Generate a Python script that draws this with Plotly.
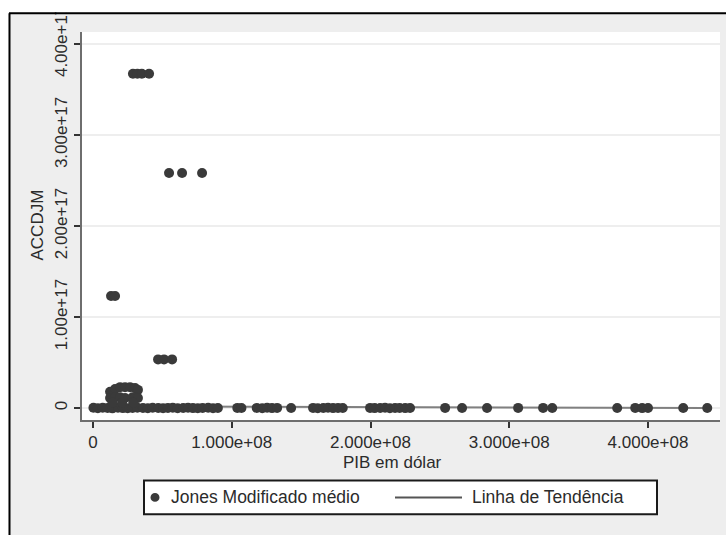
import plotly.graph_objects as go

# ---------------- data ----------------
pib = [
    # baseline (near-zero accruals)
    3.0e5, 3.5e6, 7.0e6, 1.05e7, 1.4e7, 1.8e7, 2.15e7, 2.5e7, 2.85e7, 3.2e7,
    3.6e7, 3.95e7, 4.3e7, 4.7e7, 5.05e7, 5.4e7, 5.75e7, 6.1e7, 6.5e7, 6.85e7,
    7.2e7, 7.55e7, 7.9e7, 8.3e7, 8.65e7, 9.0e7, 1.04e8, 1.07e8, 1.18e8, 1.22e8,
    1.255e8, 1.29e8, 1.327e8, 1.428e8, 1.586e8, 1.62e8, 1.66e8, 1.694e8, 1.73e8, 1.766e8,
    1.80e8, 1.997e8, 2.03e8, 2.07e8, 2.105e8, 2.14e8, 2.177e8, 2.21e8, 2.25e8, 2.285e8,
    2.538e8, 2.66e8, 2.84e8, 3.064e8, 3.244e8, 3.31e8, 3.778e8, 3.908e8, 3.958e8, 4.00e8,
    4.254e8, 4.427e8,
    # small cluster ~1-2.3e16
    1.23e7, 1.59e7, 1.95e7, 2.31e7, 2.67e7, 3.03e7, 3.24e7,
    1.23e7, 1.59e7, 1.95e7, 2.31e7, 2.85e7, 3.03e7, 3.24e7,
    1.40e7, 2.10e7, 2.90e7,
    # ~5.3e16
    4.69e7, 5.12e7, 5.70e7,
    # ~1.23e17
    1.30e7, 1.59e7,
    # ~2.58e17
    5.48e7, 6.42e7, 7.86e7,
    # ~3.67e17
    2.88e7, 3.20e7, 3.52e7, 4.04e7,
]
accdjm = [
    3.0e14, -2.0e14, 4.0e14, 1.0e14, -3.0e14, 3.0e14, 0.0, -1.0e14, 2.0e14, 4.0e14,
    1.0e14, -2.0e14, 3.0e14, 1.0e14, -1.0e14, 2.0e14, 3.0e14, -2.0e14, 1.0e14, 3.0e14,
    0.0, -2.0e14, 2.0e14, 3.0e14, -1.0e14, 1.0e14, 2.0e14, 1.0e14, 2.0e14, -1.0e14,
    3.0e14, 0.0, 2.0e14, 1.0e14, 2.0e14, -1.0e14, 1.0e14, 3.0e14, 0.0, 2.0e14,
    1.0e14, 2.0e14, 0.0, 1.0e14, 3.0e14, -1.0e14, 1.0e14, 2.0e14, 0.0, 1.0e14,
    2.0e14, 1.0e14, 1.0e14, 2.0e14, 2.0e14, 1.0e14, 1.0e14, 2.0e14, 0.0, 1.0e14,
    1.0e14, 1.0e14,
    1.8e16, 2.1e16, 2.3e16, 2.3e16, 2.3e16, 2.2e16, 2.0e16,
    1.1e16, 1.2e16, 1.2e16, 1.1e16, 1.2e16, 1.2e16, 1.1e16,
    0.6e16, 0.6e16, 0.6e16,
    5.35e16, 5.35e16, 5.35e16,
    1.232e17, 1.232e17,
    2.583e17, 2.583e17, 2.583e17,
    3.673e17, 3.673e17, 3.673e17, 3.673e17,
]

trend_x = [3.0e5, 4.427e8]
trend_y = [2.0e15, 0.0]

x_ticks = [0, 1e8, 2e8, 3e8, 4e8]
x_tick_labels = ["0", "1.000e+08", "2.000e+08", "3.000e+08", "4.000e+08"]
y_ticks = [0, 1e17, 2e17, 3e17, 4e17]
y_tick_labels = ["0", "1.00e+17", "2.00e+17", "3.00e+17", "4.00e+17"]

series_names = ["Jones Modificado médio", "Linha de Tendência"]
x_title = "PIB em dólar"
y_title = "ACCDJM"

# ---------------- layout geometry ----------------
W, H = 726, 535
L, R, T, B = 82, 6, 29, 115
PW, PH = W - L - R, H - T - B


def fx(px):
    return (px - L) / PW


def fy(py):
    return (H - B - py) / PH


FONT = "Liberation Sans, Arial, Helvetica, sans-serif"
TXT = "#2b2b2b"
MARK = "#3a3a3a"
FRAME_BG = "#eeeeee"

fig = go.Figure()
fig.add_trace(go.Scatter(
    x=trend_x, y=trend_y, mode="lines", name=series_names[1],
    line=dict(color="#808080", width=2), showlegend=False))
fig.add_trace(go.Scatter(
    x=pib, y=accdjm, mode="markers", name=series_names[0],
    marker=dict(color=MARK, size=10, line=dict(width=0)), showlegend=False))

shapes = [
    # white strips outside the frame (top and left)
    dict(type="rect", xref="paper", yref="paper", layer="above",
         x0=fx(-5), x1=fx(740), y0=fy(9), y1=fy(-10),
         fillcolor="white", line=dict(width=0)),
    dict(type="rect", xref="paper", yref="paper", layer="above",
         x0=fx(-5), x1=fx(8.5), y0=fy(550), y1=fy(-10),
         fillcolor="white", line=dict(width=0)),
    # frame border lines
    dict(type="line", xref="paper", yref="paper", layer="above",
         x0=fx(9), x1=fx(745), y0=fy(10), y1=fy(10),
         line=dict(color="black", width=2)),
    dict(type="line", xref="paper", yref="paper", layer="above",
         x0=fx(9.5), x1=fx(9.5), y0=fy(550), y1=fy(10),
         line=dict(color="black", width=2)),
    # legend box
    dict(type="rect", xref="paper", yref="paper", layer="above",
         x0=fx(144), x1=fx(657), y0=fy(515), y1=fy(481),
         fillcolor="white", line=dict(color="#1a1a1a", width=2)),
    # legend marker
    dict(type="circle", xref="paper", yref="paper", layer="above",
         x0=fx(150.5), x1=fx(159.5), y0=fy(502.5), y1=fy(493.5),
         fillcolor=MARK, line=dict(width=0)),
    # legend line
    dict(type="line", xref="paper", yref="paper", layer="above",
         x0=fx(395), x1=fx(462), y0=fy(498), y1=fy(498),
         line=dict(color="#555555", width=2)),
]

annotations = [
    dict(text=y_title, xref="paper", yref="paper", x=fx(38), y=fy(224),
         textangle=-90, showarrow=False, xanchor="center", yanchor="middle",
         font=dict(family=FONT, size=17, color=TXT)),
    dict(text=x_title, xref="paper", yref="paper", x=fx(392), y=fy(463),
         showarrow=False, xanchor="center", yanchor="middle",
         font=dict(family=FONT, size=17, color=TXT)),
    dict(text=series_names[0], xref="paper", yref="paper", x=fx(169), y=fy(498),
         showarrow=False, xanchor="left", yanchor="middle",
         font=dict(family=FONT, size=17.5, color=TXT)),
    dict(text=series_names[1], xref="paper", yref="paper", x=fx(470), y=fy(498),
         showarrow=False, xanchor="left", yanchor="middle",
         font=dict(family=FONT, size=17.5, color=TXT)),
]

fig.update_layout(
    width=W, height=H, autosize=False,
    margin=dict(l=L, r=R, t=T, b=B, pad=0),
    paper_bgcolor=FRAME_BG, plot_bgcolor="white",
    shapes=shapes, annotations=annotations, showlegend=False,
    font=dict(family=FONT, size=17, color=TXT),
)
fig.update_xaxes(
    range=[-7.93e6, 4.519e8], tickvals=x_ticks, ticktext=x_tick_labels,
    showgrid=False, zeroline=False, showline=True, linecolor="#6e6e6e", linewidth=2,
    ticks="outside", ticklen=6, tickwidth=1.5, tickcolor="#333333",
    tickfont=dict(family=FONT, size=17, color=TXT), mirror=False,
)
fig.update_yaxes(
    range=[-1.308e16, 4.1308e17], tickvals=y_ticks, ticktext=y_tick_labels,
    tickangle=-90,
    showgrid=True, gridcolor="#eeeeee", gridwidth=2,
    zeroline=False, showline=True, linecolor="#6e6e6e", linewidth=2,
    ticks="outside", ticklen=6, tickwidth=1.5, tickcolor="#333333",
    tickfont=dict(family=FONT, size=17, color=TXT),
)

fig.write_html("out.html")
